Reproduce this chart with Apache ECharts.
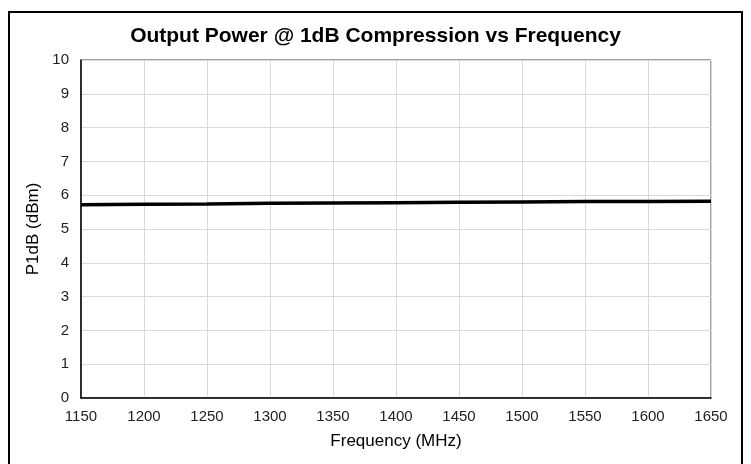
<!DOCTYPE html>
<html>
<head>
<meta charset="utf-8">
<script src="https://cdn.jsdelivr.net/npm/echarts@6/dist/echarts.min.js"></script>
<style>
  html, body { margin: 0; padding: 0; background: #fff; }
  #main { width: 751px; height: 464px; }
</style>
</head>
<body>
<div id="main"></div>
<script>
// frequency (MHz) and P1dB (dBm)
const freq = [1150, 1200, 1250, 1300, 1350, 1400, 1450, 1500, 1550, 1600, 1650];
const p1db = [5.72, 5.73, 5.74, 5.76, 5.77, 5.78, 5.79, 5.80, 5.81, 5.81, 5.82];

const chart = echarts.init(document.getElementById("main"));
const font = "Liberation Sans, Arial, sans-serif";

chart.setOption({
  animation: false,
  textStyle: { fontFamily: font },
  title: {
    text: "Output Power @ 1dB Compression vs Frequency",
    left: "center",
    top: 21,
    textStyle: { fontSize: 21, fontWeight: "bold", color: "#000", fontFamily: font },
  },
  graphic: [
    {
      type: "rect",
      shape: { x: 9, y: 12, width: 733, height: 470 },
      style: { fill: "none", stroke: "#000", lineWidth: 2 },
      silent: true,
    },
  ],
  grid: {
    left: 81,
    right: 40,
    top: 60,
    bottom: 66,
    show: true,
    borderColor: "#404040",
    borderWidth: 1,
  },
  xAxis: {
    type: "value",
    min: 1150,
    max: 1650,
    interval: 50,
    name: "Frequency (MHz)",
    nameLocation: "middle",
    nameGap: 35,
    nameTextStyle: { fontSize: 17, color: "#000" },
    axisLine: { show: true, lineStyle: { color: "#000", width: 1.5 } },
    axisTick: { show: false },
    axisLabel: { fontSize: 15, color: "#222", margin: 11, formatter: (v) => String(v) },
    splitLine: { show: true, lineStyle: { color: "#d9d9d9", width: 1 } },
  },
  yAxis: {
    type: "value",
    min: 0,
    max: 10,
    interval: 1,
    name: "P1dB (dBm)",
    nameLocation: "middle",
    nameGap: 37,
    nameTextStyle: { fontSize: 17, color: "#000" },
    axisLine: { show: true, lineStyle: { color: "#000", width: 1.5 } },
    axisTick: { show: false },
    axisLabel: { fontSize: 15, color: "#222", margin: 12 },
    splitLine: { show: true, lineStyle: { color: "#d9d9d9", width: 1 } },
  },
  series: [
    {
      type: "line",
      data: freq.map((f, i) => [f, p1db[i]]),
      showSymbol: false,
      lineStyle: { color: "#000", width: 3.5 },
    },
  ],
});
</script>
</body>
</html>
